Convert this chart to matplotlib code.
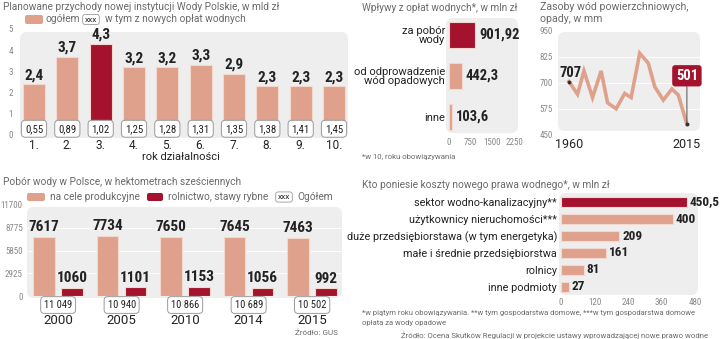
import matplotlib
matplotlib.use('Agg')
import matplotlib.pyplot as plt
from matplotlib.patches import FancyBboxPatch
from matplotlib.transforms import IdentityTransform

plt.rcParams['font.family'] = ['Roboto', 'DejaVu Sans']

W, H = 720, 339
DARK = '#a5122d'
SALMON = '#dfa18b'
EDGE = '#f3d8ce'
BG = '#eeeeee'
GRAY = '#6a6a6a'
TXT = '#222222'
NUM = ['Roboto Condensed', 'Liberation Sans Narrow', 'DejaVu Sans']

# --- planned revenue of Wody Polskie, bn zl
rev_years = ['1.', '2.', '3.', '4.', '5.', '6.', '7.', '8.', '9.', '10.']
rev_total = [2.4, 3.7, 4.3, 3.2, 3.2, 3.3, 2.9, 2.3, 2.3, 2.3]
rev_new = [0.55, 0.89, 1.02, 1.25, 1.28, 1.31, 1.35, 1.38, 1.41, 1.45]

# --- water fee income, mln zl
fee_cats = ['za pobór\nwody', 'od odprowadzenie\nwód opadowych', 'inne']
fee_vals = [901.92, 442.3, 103.6]

# --- surface water resources, mm
res_years = [1960, 1964, 1967, 1971, 1975, 1978, 1982, 1986, 1989, 1993,
             1997, 2000, 2004, 2008, 2011, 2015]
res_vals = [707, 646, 758, 630, 758, 605, 576, 650, 630, 843,
            795, 682, 618, 671, 642, 501]

# --- water intake, hm3
use_years = ['2000', '2005', '2010', '2014', '2015']
use_prod = [7617, 7734, 7650, 7645, 7463]
use_agri = [1060, 1101, 1153, 1056, 992]
use_total = ['11 049', '10 940', '10 866', '10 689', '10 502']

# --- who pays, mln zl
cost_cats = ['sektor wodno-kanalizacyjny**', 'użytkownicy nieruchomości***',
             'duże przedsiębiorstawa (w tym energetyka)',
             'małe i średnie przedsiębiorstwa', 'rolnicy', 'inne podmioty']
cost_vals = [450.5, 400, 209, 161, 81, 27]
cost_lbl = ['450,5', '400', '209', '161', '81', '27']

fig = plt.figure(figsize=(W / 100, H / 100), dpi=100)
fig.patch.set_facecolor('white')


def add_ax(l, t, r, b):
    a = fig.add_axes([l / W, 1 - b / H, (r - l) / W, (b - t) / H])
    a.set_facecolor('none')
    for s in a.spines.values():
        s.set_visible(False)
    return a


def rbox(x0, y0, x1, y1, color, r=6, z=-1, ec='none'):
    p = FancyBboxPatch((x0, H - y1), x1 - x0, y1 - y0,
                       boxstyle='round,pad=0,rounding_size=%s' % r,
                       transform=IdentityTransform(), fc=color, ec=ec,
                       lw=0.6, zorder=z)
    fig.add_artist(p)


def ftext(x, y, s, **kw):
    kw.setdefault('va', 'center')
    fig.text(x / W, 1 - y / H, s, **kw)


def small_ticks(a, axis):
    for t in (a.get_yticklabels() if axis == 'y' else a.get_xticklabels()):
        t.set_family(NUM)


xbox = dict(boxstyle='round,pad=0.25,rounding_size=0.3', fc='white', ec='#9a9a9a', lw=0.6)
vbox = dict(boxstyle='round,pad=0.32,rounding_size=0.35', fc='white', ec='#9a9a9a', lw=0.7)

# ------------------------------------------------------------------ panel 1
ftext(3, 7, 'Planowane przychody nowej instytucji Wody Polskie, w mld zł', fontsize=7.3, color=GRAY)
rbox(25, 15, 43, 24, SALMON, r=2)
ftext(46, 19.5, 'ogółem', fontsize=7.3, color=GRAY)
ftext(91, 19.5, 'xxx', fontsize=6, color=TXT, ha='center', bbox=xbox)
ftext(105, 19.5, 'w tym z nowych opłat wodnych', fontsize=7.3, color=GRAY)

rbox(20, 32, 348, 138, BG, r=7)
ax1 = add_ax(20, 29, 348, 135)
x1 = range(1, len(rev_total) + 1)
cols = [DARK if v == max(rev_total) else SALMON for v in rev_total]
ax1.bar(x1, rev_total, width=0.66, color=cols, edgecolor=EDGE, linewidth=0.8)
for x, v, n in zip(x1, rev_total, rev_new):
    ax1.annotate(('%.1f' % v).replace('.', ','), (x, v), xytext=(0, 1.5),
                 textcoords='offset points', ha='center', va='bottom',
                 fontsize=11, fontweight='bold', family=NUM, color=TXT)
    ax1.annotate(('%.2f' % n).replace('.', ','), (x, 0), xytext=(0, 4.5),
                 textcoords='offset points', ha='center', va='center',
                 fontsize=7.8, family=NUM, color=TXT, bbox=vbox)
ax1.set_xlim(0.58, 10.42)
ax1.set_ylim(0, 5)
ax1.set_yticks(range(6))
ax1.set_xticks(list(x1))
ax1.set_xticklabels(rev_years)
ax1.tick_params(axis='y', length=0, labelsize=6.5, labelcolor='#888888', pad=5)
ax1.tick_params(axis='x', length=0, labelsize=8.5, labelcolor=TXT, pad=3)
small_ticks(ax1, 'y')
ftext(181, 157, 'rok działalności', fontsize=8, color=TXT, ha='center')

# ------------------------------------------------------------------ panel 2
ftext(362, 8, 'Wpływy z opłat wodnych*, w mln zł', fontsize=7.2, color=GRAY)
rbox(446, 18, 518, 133, BG, r=7)
ax2 = add_ax(448, 18, 517, 135)
y2 = range(len(fee_vals))
ax2.barh(y2, fee_vals, height=0.63, color=[DARK, SALMON, SALMON],
         edgecolor=EDGE, linewidth=0.8)
for y, v in zip(y2, fee_vals):
    lbl = ('%.2f' % v if y == 0 else '%.1f' % v).replace('.', ',')
    ax2.annotate(lbl, (v, y), xytext=(3, 0), textcoords='offset points',
                 ha='left', va='center', fontsize=10.5, fontweight='bold',
                 family=NUM, color=TXT)
ax2.set_xlim(-35, 2355)
ax2.set_ylim(2.44, -0.41)
ax2.set_yticks(list(y2))
ax2.set_yticklabels(fee_cats, linespacing=0.9)
ax2.set_xticks([0, 750, 1500, 2250])
ax2.tick_params(axis='y', length=0, labelsize=8, labelcolor=TXT, pad=2)
ax2.tick_params(axis='x', length=0, labelsize=6.5, labelcolor='#888888', pad=2)
small_ticks(ax2, 'x')
ftext(362, 157, '*w 10, roku obowiązywania', fontsize=5.6, color=GRAY)

# ------------------------------------------------------------------ panel 3
ftext(540, 7, 'Zasoby wód powierzchniowych,', fontsize=7.6, color=GRAY)
ftext(540, 19, 'opady, w mm', fontsize=7.6, color=GRAY)
rbox(558, 32, 700, 131, BG, r=7)
ax3 = add_ax(558, 31, 700, 135)
ax3.plot(res_years, res_vals, color=SALMON, lw=2.6, solid_joinstyle='miter', zorder=2)
ax3.plot([res_years[0], res_years[-1]], [res_vals[0], res_vals[-1]], 'o',
         color='#333333', ms=1.8, zorder=3)
ax3.set_xlim(1954.9, 2021.1)
ax3.set_ylim(450, 950)
ax3.set_yticks([450, 575, 700, 825, 950])
ax3.set_xticks([res_years[0], res_years[-1]])
ax3.tick_params(axis='y', length=0, labelsize=6.5, labelcolor='#888888', pad=4)
ax3.tick_params(axis='x', length=0, labelsize=9, labelcolor=TXT, pad=2)
small_ticks(ax3, 'y')
ax3.grid(axis='y', color='white', lw=0.6)
ax3.set_axisbelow(True)
ax3.annotate(str(res_vals[0]), (res_years[0], res_vals[0]), xytext=(-7, 1),
             textcoords='offset points', ha='left', va='bottom', fontsize=10.5,
             fontweight='bold', family=NUM, color=TXT)
ax3.annotate(str(res_vals[-1]), (res_years[-1], res_vals[-1]), xytext=(0, 35),
             textcoords='offset points', ha='center', va='center', fontsize=10.5,
             fontweight='bold', family=NUM, color='white',
             bbox=dict(boxstyle='round,pad=0.25,rounding_size=0.2', fc=DARK, ec='none'),
             arrowprops=dict(arrowstyle='-', color='#333333', lw=0.6, shrinkA=0, shrinkB=0))

# ------------------------------------------------------------------ panel 4
ftext(3, 182, 'Pobór wody w Polsce, w hektometrach sześciennych', fontsize=7.3, color=GRAY)
rbox(27, 193, 45, 201, SALMON, r=2)
ftext(50, 197, 'na cele produkcyjne', fontsize=7.3, color=GRAY)
rbox(147, 193, 163, 201, DARK, r=2)
ftext(168, 197, 'rolnictwo, stawy rybne', fontsize=7.3, color=GRAY)
ftext(284, 197, 'xxx', fontsize=6, color=TXT, ha='center', bbox=xbox)
ftext(297, 197, 'Ogółem', fontsize=7.3, color=GRAY)

rbox(27, 207, 342, 298, BG, r=7)
ax4 = add_ax(27, 205, 342, 296)
x4 = range(len(use_years))
xp = [i - 0.22 for i in x4]
xa = [i + 0.22 for i in x4]
ax4.bar(xp, use_prod, width=0.34, color=SALMON, edgecolor=EDGE, linewidth=0.8)
ax4.bar(xa, use_agri, width=0.34, color=DARK, edgecolor=EDGE, linewidth=0.8)
for i in x4:
    ax4.annotate(str(use_prod[i]), (xp[i], use_prod[i]), xytext=(0, 2),
                 textcoords='offset points', ha='center', va='bottom',
                 fontsize=11, fontweight='bold', family=NUM, color=TXT)
    ax4.annotate(str(use_agri[i]), (xa[i], use_agri[i]), xytext=(0, 2),
                 textcoords='offset points', ha='center', va='bottom',
                 fontsize=11, fontweight='bold', family=NUM, color=TXT)
    ax4.annotate(use_total[i], (i, 0), xytext=(0, -6.5),
                 textcoords='offset points', ha='center', va='center',
                 fontsize=7.6, family=NUM, color=TXT, bbox=vbox)
ax4.set_xlim(-0.49, 4.47)
ax4.set_ylim(0, 11700)
ax4.set_yticks([0, 2925, 5850, 8775, 11700])
ax4.set_xticks(list(x4))
ax4.set_xticklabels(use_years)
ax4.tick_params(axis='y', length=0, labelsize=6.5, labelcolor='#888888', pad=3)
ax4.tick_params(axis='x', length=0, labelsize=9.5, labelcolor=TXT, pad=13)
small_ticks(ax4, 'y')
ax4.grid(axis='y', color='white', lw=0.6)
ax4.set_axisbelow(True)
ftext(338, 333, 'Źródło: GUS', fontsize=5.8, color=GRAY, ha='right')

# ------------------------------------------------------------------ panel 5
ftext(362, 185, 'Kto poniesie koszty nowego prawa wodnego*, w mln zł', fontsize=7.3, color=GRAY)
rbox(559, 193, 698, 295, BG, r=7)
ax5 = add_ax(560, 193, 700, 296)
y5 = range(len(cost_vals))
ax5.barh(y5, cost_vals, height=0.62,
         color=[DARK] + [SALMON] * (len(cost_vals) - 1), edgecolor=EDGE, linewidth=0.8)
for y, v, l in zip(y5, cost_vals, cost_lbl):
    ax5.annotate(l, (v, y), xytext=(2, 0), textcoords='offset points',
                 ha='left', va='center', fontsize=9.5, fontweight='bold',
                 family=NUM, color=TXT)
ax5.set_xlim(-3.6, 498)
ax5.set_ylim(5.53, -0.53)
ax5.set_yticks(list(y5))
ax5.set_yticklabels(cost_cats)
ax5.set_xticks([0, 120, 240, 360, 480])
ax5.tick_params(axis='y', length=0, labelsize=7.8, labelcolor=TXT, pad=2)
ax5.tick_params(axis='x', length=0, labelsize=6.5, labelcolor='#888888', pad=1.5)
small_ticks(ax5, 'x')
ftext(362, 313, '*w piątym roku obowiązywania. **w tym gospodarstwa domowe, '
      '***w tym gospodarstwa domowe', fontsize=5.5, color=GRAY)
ftext(362, 323, 'opłata za wody opadowe', fontsize=5.5, color=GRAY)
ftext(708, 335, 'Źródło: Ocena Skutków Regulacji w projekcie ustawy wprowadzającej '
      'nowe prawo wodne', fontsize=5.6, color=GRAY, ha='right')

fig.savefig('out.png', dpi=100)
